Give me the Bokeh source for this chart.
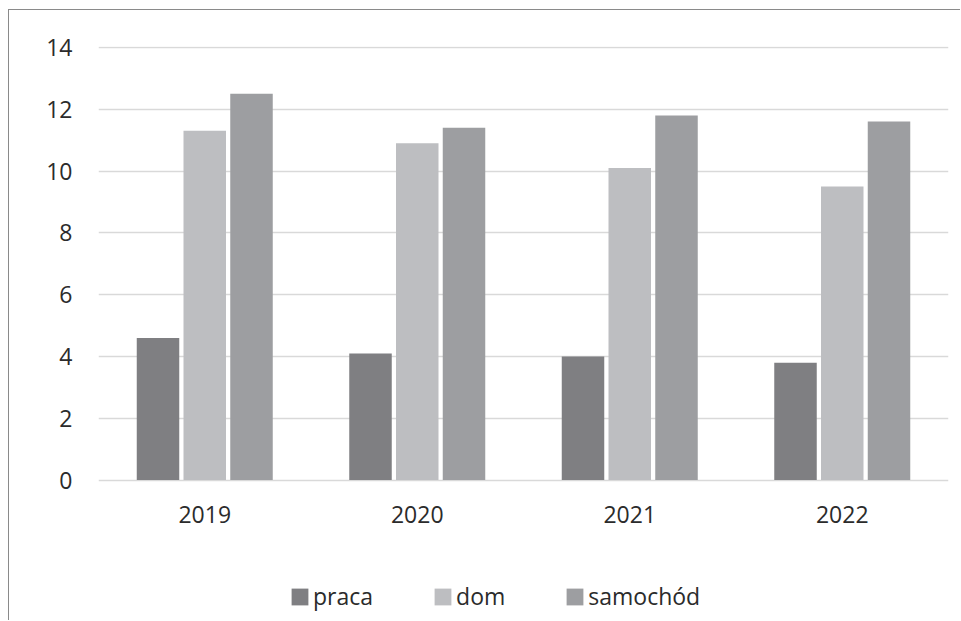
from bokeh.plotting import figure
from bokeh.models import ColumnDataSource, FactorRange, Range1d, Legend, LegendItem, FixedTicker
from bokeh.transform import dodge
from bokeh.embed import file_html
from bokeh.resources import INLINE

years = ["2019", "2020", "2021", "2022"]
praca = [4.6, 4.1, 4.0, 3.8]
dom = [11.3, 10.9, 10.1, 9.5]
samochod = [12.5, 11.4, 11.8, 11.6]
series_names = ["praca", "dom", "samochód"]
series_cols = ["praca", "dom", "samochod"]
colors = ["#7f7f82", "#bdbec1", "#9d9ea1"]
y_ticks = [0, 2, 4, 6, 8, 10, 12, 14]

source = ColumnDataSource(data=dict(year=years, praca=praca, dom=dom, samochod=samochod))

FONT = "Open Sans"
TXT = "#2b2b2b"

# frame extends below zero so the legend can sit inside it; x axis is fixed at y = 0
p = figure(x_range=FactorRange(*years), y_range=Range1d(-4.575, 14.03),
           width=952, height=611, output_backend="svg", toolbar_location=None,
           min_border_left=89, min_border_right=13, min_border_top=36, min_border_bottom=0,
           margin=(9, 0, 0, 8))
p.styles = {"border-top": "1px solid #8a8a8a", "border-left": "1px solid #8a8a8a"}
p.outline_line_color = None
p.background_fill_color = "white"
p.border_fill_color = "white"

offsets = [-0.22, 0.0, 0.22]
renderers = []
for col, off, c in zip(series_cols, offsets, colors):
    r = p.vbar(x=dodge("year", off, range=p.x_range), top=col, width=0.2, source=source,
               fill_color=c, line_color=None)
    renderers.append(r)

p.xgrid.grid_line_color = None
p.ygrid.grid_line_color = "#d9d9d9"
p.ygrid.grid_line_width = 1.5
p.yaxis.ticker = FixedTicker(ticks=y_ticks)
p.xaxis.fixed_location = 0

for ax in (p.xaxis[0], p.yaxis[0]):
    ax.axis_line_color = None
    ax.major_tick_line_color = None
    ax.minor_tick_line_color = None
    ax.major_tick_out = 0
    ax.major_tick_in = 0
    ax.major_label_text_font = FONT
    ax.major_label_text_font_size = "23px"
    ax.major_label_text_color = TXT

p.yaxis.major_label_standoff = 26
p.xaxis.major_label_standoff = 26

legend = Legend(items=[LegendItem(label=n, renderers=[r]) for n, r in zip(series_names, renderers)],
                orientation="horizontal", location=(191, 9))
legend.glyph_width = 21
legend.glyph_height = 21
legend.label_standoff = 3
legend.spacing = 59
legend.padding = 0
legend.margin = 0
legend.border_line_color = None
legend.background_fill_alpha = 0
legend.label_text_font = FONT
legend.label_text_font_size = "23px"
legend.label_text_color = TXT
p.add_layout(legend, "center")

open("out.html", "w").write(file_html(p, INLINE))
